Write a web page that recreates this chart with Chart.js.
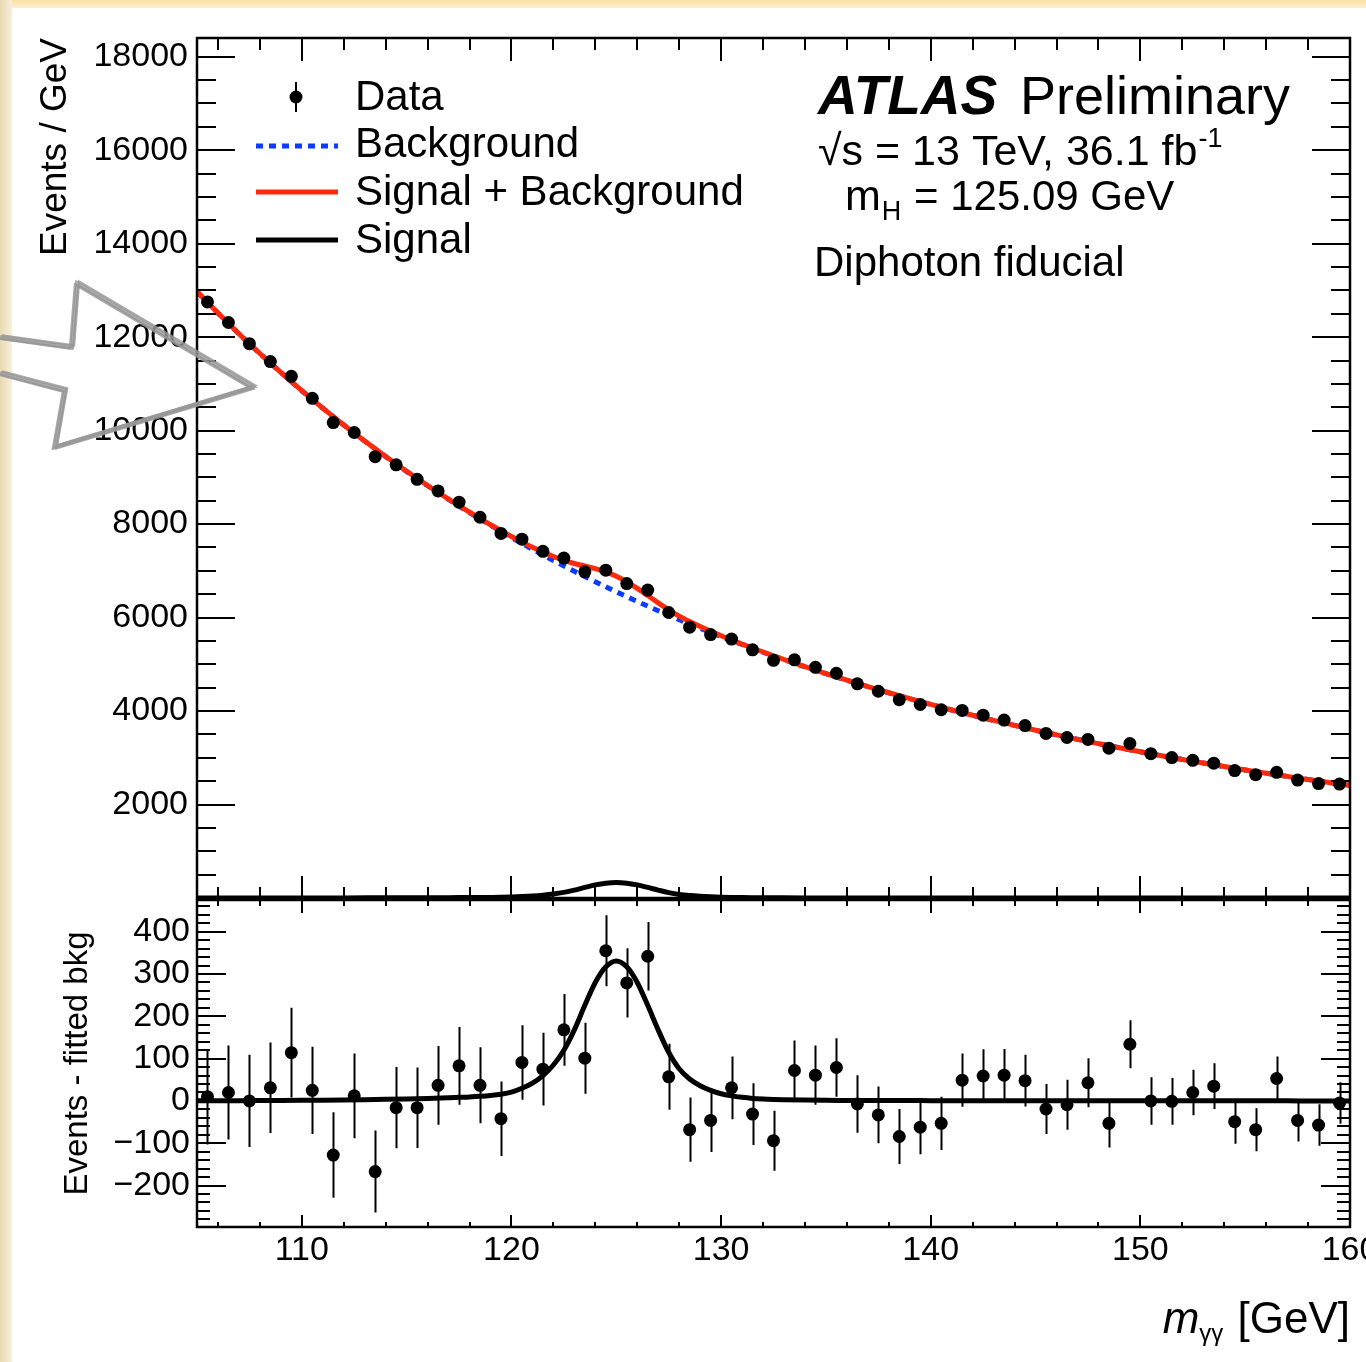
<!DOCTYPE html>
<html lang="en">
<head>
<meta charset="UTF-8">
<title>ATLAS diphoton fiducial</title>
<script src="https://cdn.jsdelivr.net/npm/chart.js"></script>
<style>
  body { margin: 0; background: #fff; width: 1366px; height: 1362px; position: relative; overflow: hidden; }
  #topbar { position: absolute; left: 0; top: 0; width: 1366px; height: 8px; background: linear-gradient(#fbe1a6, #fdefcc); }
  #leftbar { position: absolute; left: 0; top: 0; width: 12px; height: 1362px; background: linear-gradient(90deg, #e9dab2, #f7efdc); }
  canvas { position: absolute; left: 0; }
  #top { top: 0; }
  #bottom { top: 897px; }
</style>
</head>
<body>
<div id="topbar"></div>
<div id="leftbar"></div>
<canvas id="top" width="1366" height="900"></canvas>
<canvas id="bottom" width="1366" height="465"></canvas>
<script>
// diphoton mass bins (1 GeV), data and fit
const binCenters = [105.5,106.5,107.5,108.5,109.5,110.5,111.5,112.5,113.5,114.5,
  115.5,116.5,117.5,118.5,119.5,120.5,121.5,122.5,123.5,124.5,
  125.5,126.5,127.5,128.5,129.5,130.5,131.5,132.5,133.5,134.5,
  135.5,136.5,137.5,138.5,139.5,140.5,141.5,142.5,143.5,144.5,
  145.5,146.5,147.5,148.5,149.5,150.5,151.5,152.5,153.5,154.5,
  155.5,156.5,157.5,158.5,159.5];

const dataEvents = [12753,12313,11861,11477,11162,10691,10171,9959,9442,9268,
  8957,8710,8468,8146,7801,7678,7417,7273,6979,7014,
  6727,6588,6108,5795,5637,5540,5310,5085,5096,4935,
  4808,4583,4423,4243,4140,4028,4014,3912,3806,3689,
  3522,3434,3392,3206,3305,3087,3004,2946,2885,2727,
  2637,2689,2523,2448,2438];

const dataErr = [113,111,109,107,106,103,101,100,97,96,
  95,93,92,90,88,88,86,85,84,84,
  82,81,78,76,75,74,73,71,71,70,
  69,68,67,65,64,63,63,63,62,61,
  59,59,58,57,57,56,55,54,54,52,
  51,52,50,49,49];

const residuals = [10,20,0,31,114,25,-128,12,-167,-16,
  -16,37,83,37,-42,91,75,168,101,355,
  279,342,57,-68,-46,31,-31,-94,72,61,
  79,-7,-33,-84,-62,-53,49,59,61,48,
  -19,-9,43,-53,134,0,-1,20,35,-49,
  -68,53,-46,-57,-5];

const curveMass = [105,106,107,108,109,110,111,112,113,114,115,116,117,
  117.5,118,118.5,119,119.5,120,120.5,121,121.5,122,122.5,123,123.5,124,124.5,
  125,125.5,126,126.5,127,127.5,128,128.5,129,129.5,130,130.5,131,131.5,132,132.5,133,
  134,135,136,137,138,139,140,141,142,143,144,145,146,147,148,149,150,
  151,152,153,154,155,156,157,158,159,160];

const bkgFit = [12973,12513,12072,11649,11243,10853,10479,10119,9775,9443,9125,8820,8526,
  8385,8244,8109,7973,7843,7712,7587,7462,7342,7221,7105,6989,6878,6766,6659,
  6551,6448,6345,6246,6146,6051,5955,5863,5771,5683,5594,5509,5423,5341,5258,5179,5100,
  4947,4800,4658,4522,4390,4263,4140,4022,3908,3798,3692,3590,3491,3395,3303,3214,3128,
  3045,2965,2887,2812,2740,2670,2602,2536,2473,2412];

const sigPlusBkg = [12974,12514,12073,11650,11244,10854,10481,10121,9778,9447,9130,8826,8534,
  8394,8254,8120,7986,7859,7733,7617,7504,7402,7306,7225,7157,7104,7046,6976,
  6882,6765,6625,6472,6314,6166,6031,5915,5807,5708,5611,5521,5432,5347,5263,5183,5103,
  4949,4802,4659,4523,4391,4264,4141,4023,3909,3799,3692,3590,3491,3395,3303,3214,3128,
  3045,2965,2887,2812,2740,2670,2602,2536,2473,2412];

const signalFit = [0.5,0.6,0.7,0.9,1.1,1.4,1.8,2.3,3,3.8,4.8,6,7.5,
  8.5,9.5,11,13,16,21,30,42,60,85,120,168,226,280,317,
  331,317,280,226,168,115,76,52,36,25,17,12,8.5,6,4.5,3.5,2.8,
  2,1.5,1.2,1,0.9,0.8,0.7,0.6,0.6,0.5,0.5,0.4,0.4,0.4,0.3,0.3,0.3,
  0.3,0.2,0.2,0.2,0.2,0.2,0.2,0.1,0.1,0.1];

// axis labels
const xLabels = [110,120,130,140,150,160];
const yTopLabels = [2000,4000,6000,8000,10000,12000,14000,16000,18000];
const yLowLabels = [-200,-100,0,100,200,300,400];
const legendLabels = ['Data','Background','Signal + Background','Signal'];

const FONT = "'Liberation Sans', Arial, Helvetica, sans-serif";
Chart.defaults.font.family = FONT;
Chart.defaults.color = '#000';

const pts = (xs, ys) => xs.map((x, i) => ({x: x, y: ys[i]}));

// error bars drawn just before the data markers
const errorBars = {
  id: 'errorBars',
  beforeDatasetDraw(chart, args, opts) {
    if (args.index !== 0) return;
    const ds = chart.data.datasets[0].data;
    const {x, y} = chart.scales;
    const a = chart.chartArea;
    const c = chart.ctx;
    c.save();
    c.beginPath();
    c.rect(a.left, a.top, a.right - a.left, a.bottom - a.top);
    c.clip();
    c.strokeStyle = '#000';
    c.lineWidth = 2;
    c.beginPath();
    ds.forEach((p, i) => {
      const px = Math.round(x.getPixelForValue(p.x)) + 0.5;
      c.moveTo(px, y.getPixelForValue(p.y - opts.err[i]));
      c.lineTo(px, y.getPixelForValue(p.y + opts.err[i]));
    });
    c.stroke();
    c.restore();
  }
};

// ROOT style frame with inward ticks on all four sides
const frame = {
  id: 'frame',
  afterDraw(chart, args, o) {
    const c = chart.ctx;
    const a = chart.chartArea;
    const {x, y} = chart.scales;
    c.save();
    c.strokeStyle = '#000';
    c.lineWidth = 2;
    c.beginPath();
    for (let v = 106; v <= 160; v += 2) {
      const major = v % 10 === 0;
      const px = Math.round(x.getPixelForValue(v));
      const lt = major ? o.xTop[0] : o.xTop[1];
      const lb = major ? o.xBot[0] : o.xBot[1];
      c.moveTo(px, a.top); c.lineTo(px, a.top + lt);
      c.moveTo(px, a.bottom); c.lineTo(px, a.bottom - lb);
    }
    for (let v = o.yMin; v <= o.yMax; v += o.yMinor) {
      const major = v % o.yMajor === 0;
      const py = Math.round(y.getPixelForValue(v));
      const l = major ? o.yLen[0] : o.yLen[1];
      c.moveTo(a.left, py); c.lineTo(a.left + l, py);
      c.moveTo(a.right, py); c.lineTo(a.right - l, py);
    }
    c.stroke();
    c.lineWidth = 2.5;
    c.strokeRect(a.left, a.top, a.right - a.left, a.bottom - a.top);
    c.restore();
  }
};

// legend, ATLAS label and the grey hand drawn arrow
const annotations = {
  id: 'annotations',
  afterDraw(chart) {
    const c = chart.ctx;
    c.save();
    c.fillStyle = '#000';
    c.textBaseline = 'alphabetic';
    // legend symbols
    c.strokeStyle = '#000';
    c.lineWidth = 2;
    c.beginPath(); c.moveTo(296, 82); c.lineTo(296, 112); c.stroke();
    c.beginPath(); c.arc(296, 97, 6.5, 0, Math.PI * 2); c.fill();
    c.lineWidth = 5;
    c.strokeStyle = '#0b3bff';
    c.setLineDash([7, 6]);
    c.beginPath(); c.moveTo(256, 146); c.lineTo(338, 146); c.stroke();
    c.setLineDash([]);
    c.strokeStyle = '#ff2a0a';
    c.beginPath(); c.moveTo(256, 192); c.lineTo(338, 192); c.stroke();
    c.strokeStyle = '#000';
    c.beginPath(); c.moveTo(256, 240); c.lineTo(338, 240); c.stroke();
    c.font = '42px ' + FONT;
    [110, 157, 205, 253].forEach((by, i) => c.fillText(legendLabels[i], 355, by));

    // ATLAS label
    c.font = 'italic bold 55px ' + FONT;
    c.fillText('ATLAS', 818, 114);
    c.font = '54px ' + FONT;
    c.fillText('Preliminary', 1020, 114);
    c.font = '43px ' + FONT;
    const s1 = '\u221As = 13 TeV, 36.1 fb';
    c.fillText(s1, 818, 165);
    const w1 = c.measureText(s1).width;
    c.font = '27px ' + FONT;
    c.fillText('-1', 818 + w1 + 1, 147);
    c.font = '43px ' + FONT;
    c.fillText('m', 845, 210);
    const wm = c.measureText('m').width;
    c.font = '27px ' + FONT;
    c.fillText('H', 845 + wm + 1, 220);
    const wh = c.measureText('H').width;
    c.font = '42px ' + FONT;
    c.fillText(' = 125.09 GeV', 845 + wm + wh + 2, 210);
    c.fillText('Diphoton fiducial', 814, 276);

    // grey arrow annotation
    const arrow = [[0,337],[72,347],[77,283],[253,387],[55,447],[65,390],[0,373]];
    c.strokeStyle = 'rgba(150,150,150,0.8)';
    c.lineJoin = 'miter';
    [[0, 0, 4], [2, -1.5, 2.5], [-2, 1.5, 2.5], [1, 2, 1.5]].forEach(([dx, dy, lw]) => {
      c.lineWidth = lw;
      c.beginPath();
      arrow.forEach(([px, py], i) => i ? c.lineTo(px + dx, py + dy) : c.moveTo(px + dx, py + dy));
      c.stroke();
    });
    c.restore();
  }
};

// x axis title with italic m and gamma-gamma subscript
const xTitle = {
  id: 'xTitle',
  afterDraw(chart) {
    const c = chart.ctx;
    c.save();
    c.fillStyle = '#000';
    c.textBaseline = 'alphabetic';
    c.font = '44px ' + FONT;
    const t = ' [GeV]';
    const wt = c.measureText(t).width;
    const xr = 1350;
    c.fillText(t, xr - wt, 436);
    c.font = '24px ' + FONT;
    const wg = c.measureText('\u03B3\u03B3').width;
    c.fillText('\u03B3\u03B3', xr - wt - wg - 2, 444);
    c.font = 'italic 44px ' + FONT;
    const wm = c.measureText('m').width;
    c.fillText('m', xr - wt - wg - wm - 2, 436);
    c.restore();
  }
};

const tickFont = {size: 34};
const noGrid = {display: false, drawTicks: false};

new Chart(document.getElementById('top'), {
  type: 'scatter',
  data: {
    datasets: [
      {label: 'Data', data: pts(binCenters, dataEvents), backgroundColor: '#000', borderWidth: 0, pointRadius: 6.5},
      {label: 'Signal + Background', data: pts(curveMass, sigPlusBkg), showLine: true, borderColor: '#ff2a0a', borderWidth: 5, pointRadius: 0, cubicInterpolationMode: 'monotone'},
      {label: 'Background', data: pts(curveMass, bkgFit), showLine: true, borderColor: '#0b3bff', borderWidth: 5, borderDash: [7, 6], pointRadius: 0, cubicInterpolationMode: 'monotone'},
      {label: 'Signal', data: pts(curveMass, signalFit), showLine: true, borderColor: '#000', borderWidth: 5, pointRadius: 0, cubicInterpolationMode: 'monotone'}
    ]
  },
  options: {
    responsive: false,
    animation: false,
    layout: {autoPadding: false, padding: {top: 38, right: 16, bottom: 2, left: 0}},
    plugins: {
      legend: {display: false},
      tooltip: {enabled: false},
      errorBars: {err: dataErr},
      frame: {xTop: [23, 12], xBot: [22, 11], yLen: [38, 19], yMin: 0, yMax: 18000, yMinor: 500, yMajor: 2000}
    },
    scales: {
      x: {type: 'linear', min: 105, max: 160, display: false},
      y: {
        min: 0, max: 18400,
        afterBuildTicks: s => { s.ticks = yTopLabels.map(v => ({value: v})); },
        afterFit: s => { s.width = 197; s.paddingTop = 0; s.paddingBottom = 0; },
        grid: noGrid,
        border: {display: false},
        ticks: {font: tickFont, color: '#000', padding: 9, callback: v => String(v)},
        title: {display: true, text: 'Events / GeV', align: 'end', color: '#000', font: {size: 37}, padding: {top: 34, bottom: 0}}
      }
    }
  },
  plugins: [errorBars, frame, annotations]
});

new Chart(document.getElementById('bottom'), {
  type: 'scatter',
  data: {
    datasets: [
      {label: 'Data', data: pts(binCenters, residuals), backgroundColor: '#000', borderWidth: 0, pointRadius: 6.5},
      {label: 'Signal', data: pts(curveMass, signalFit), showLine: true, borderColor: '#000', borderWidth: 5, pointRadius: 0, cubicInterpolationMode: 'monotone'}
    ]
  },
  options: {
    responsive: false,
    animation: false,
    layout: {autoPadding: false, padding: {top: 3, right: 16, bottom: 0, left: 0}},
    plugins: {
      legend: {display: false},
      tooltip: {enabled: false},
      errorBars: {err: dataErr},
      frame: {xTop: [13, 6], xBot: [12, 5], yLen: [29, 13], yMin: -280, yMax: 460, yMinor: 20, yMajor: 100}
    },
    scales: {
      x: {
        type: 'linear', min: 105, max: 160,
        afterBuildTicks: s => { s.ticks = xLabels.map(v => ({value: v})); },
        afterFit: s => { s.height = 135; s.paddingLeft = 0; s.paddingRight = 0; },
        grid: noGrid,
        border: {display: false},
        ticks: {font: tickFont, color: '#000', padding: 3, maxRotation: 0, autoSkip: false, callback: v => String(v)},
      },
      y: {
        min: -298, max: 475,
        afterBuildTicks: s => { s.ticks = yLowLabels.map(v => ({value: v})); },
        afterFit: s => { s.width = 197; s.paddingTop = 0; s.paddingBottom = 0; },
        grid: noGrid,
        border: {display: false},
        ticks: {font: tickFont, color: '#000', padding: 7, callback: v => (v < 0 ? '\u2212' + Math.abs(v) : String(v))},
        title: {display: true, text: 'Events - fitted bkg', align: 'center', color: '#000', font: {size: 33}, padding: {top: 58, bottom: 0}}
      }
    }
  },
  plugins: [errorBars, frame, xTitle]
});
</script>
</body>
</html>
